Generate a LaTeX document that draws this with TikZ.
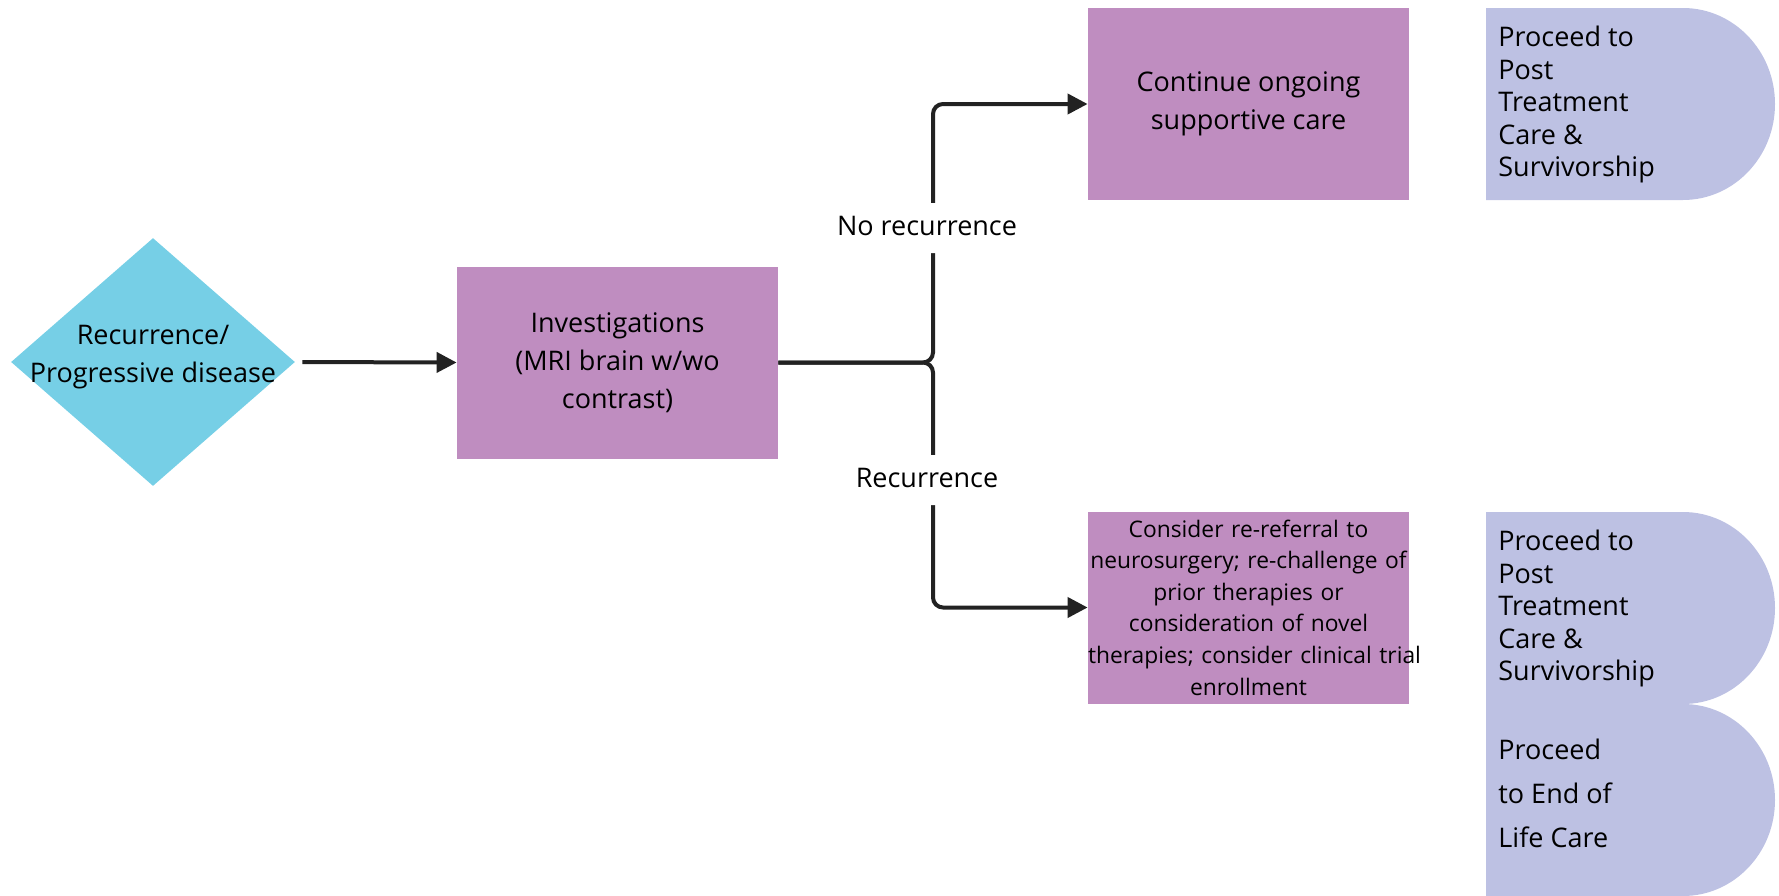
\documentclass[tikz,border=0pt]{standalone}
\usepackage{fontspec}
\setmainfont{Open Sans}
\usetikzlibrary{positioning}
\usetikzlibrary{shapes.geometric}
\usetikzlibrary{arrows.meta}

\definecolor{decisionblue}{HTML}{76CFE6}
\definecolor{stepmauve}{HTML}{BF8DC0}
\definecolor{exitlilac}{HTML}{BDC1E3}
\definecolor{flowline}{HTML}{222222}

\begin{document}
\begin{tikzpicture}
[x=0.5pt,y=-0.5pt,
  decision/.style={shape=diamond,fill=decisionblue,minimum width=142pt,minimum height=124pt,inner sep=0pt},
  stepbox/.style={shape=rectangle,fill=stepmauve,minimum width=160.5pt,minimum height=96pt,inner sep=0pt,align=center,font=\fontsize{13.5}{19}\selectfont},
  exittext/.style={anchor=north west,inner sep=0pt,align=left,font=\fontsize{13.5}{16.2}\selectfont},
  flow/.style={draw=flowline,line width=2pt,-{Triangle[length=10pt,width=10pt]}},
  branch/.style={fill=white,inner xsep=2pt,inner ysep=6pt,text height=10pt,text depth=3pt,xshift=-3pt,font=\fontsize{13.5}{16}\selectfont}]

\useasboundingbox (0,0) rectangle (1779,895);

% start and investigation
\node[decision,label={[align=center,font=\fontsize{13.5}{19}\selectfont,yshift=2.5pt]center:Recurrence/\\Progressive disease}] (recur) at (153,362) {};
\node[stepbox] (invest) at (617.5,362.5) {Investigations\\(MRI brain w/wo\\contrast)};

% outcomes
\node[stepbox] (contcare) at (1248.5,104) {Continue ongoing\\supportive care};
\node[stepbox,text width=160.5pt,font=\fontsize{11.4}{15.8}\selectfont] (rerefer) at (1248.5,607.5)
  {Consider re-referral to\\\mbox{neurosurgery; re-challenge of}\\prior therapies or\\consideration of novel\\\mbox{therapies; consider clinical trial}\\enrollment};

% exit shapes
\fill[exitlilac] (1486,8) -- (1683,8) arc[start angle=90,end angle=-90,x radius=46pt,y radius=48pt] -- (1486,200) -- cycle;
\fill[exitlilac] (1486,512) -- (1683,512) arc[start angle=90,end angle=-90,x radius=46pt,y radius=48pt] -- (1486,704) -- cycle;
\fill[exitlilac] (1486,704) -- (1683,704) arc[start angle=90,end angle=-90,x radius=46pt,y radius=48pt] -- (1486,896) -- cycle;
\node[exittext] (postcare) at (1498,26) {Proceed to\\Post\\Treatment\\Care \&\\Survivorship};
\node[exittext] (postcaretwo) at (1498,530) {Proceed to\\Post\\Treatment\\Care \&\\Survivorship};
\node[exittext,font=\fontsize{13.5}{22}\selectfont] (endlife) at (1498,739) {Proceed\\to End of\\Life Care};

% connectors
\coordinate (fork) at (933,362.5);
\draw[flow,shorten <=3.5pt] (recur.east) -- (invest.west);
\draw[flow,rounded corners=5pt] (invest.east) -- (fork) |- (contcare.west) node[branch,pos=0.26] {No recurrence};
\draw[flow,rounded corners=5pt] (invest.east) -- (fork) |- (rerefer.west) node[branch,pos=0.24] {Recurrence};
\end{tikzpicture}
\end{document}
